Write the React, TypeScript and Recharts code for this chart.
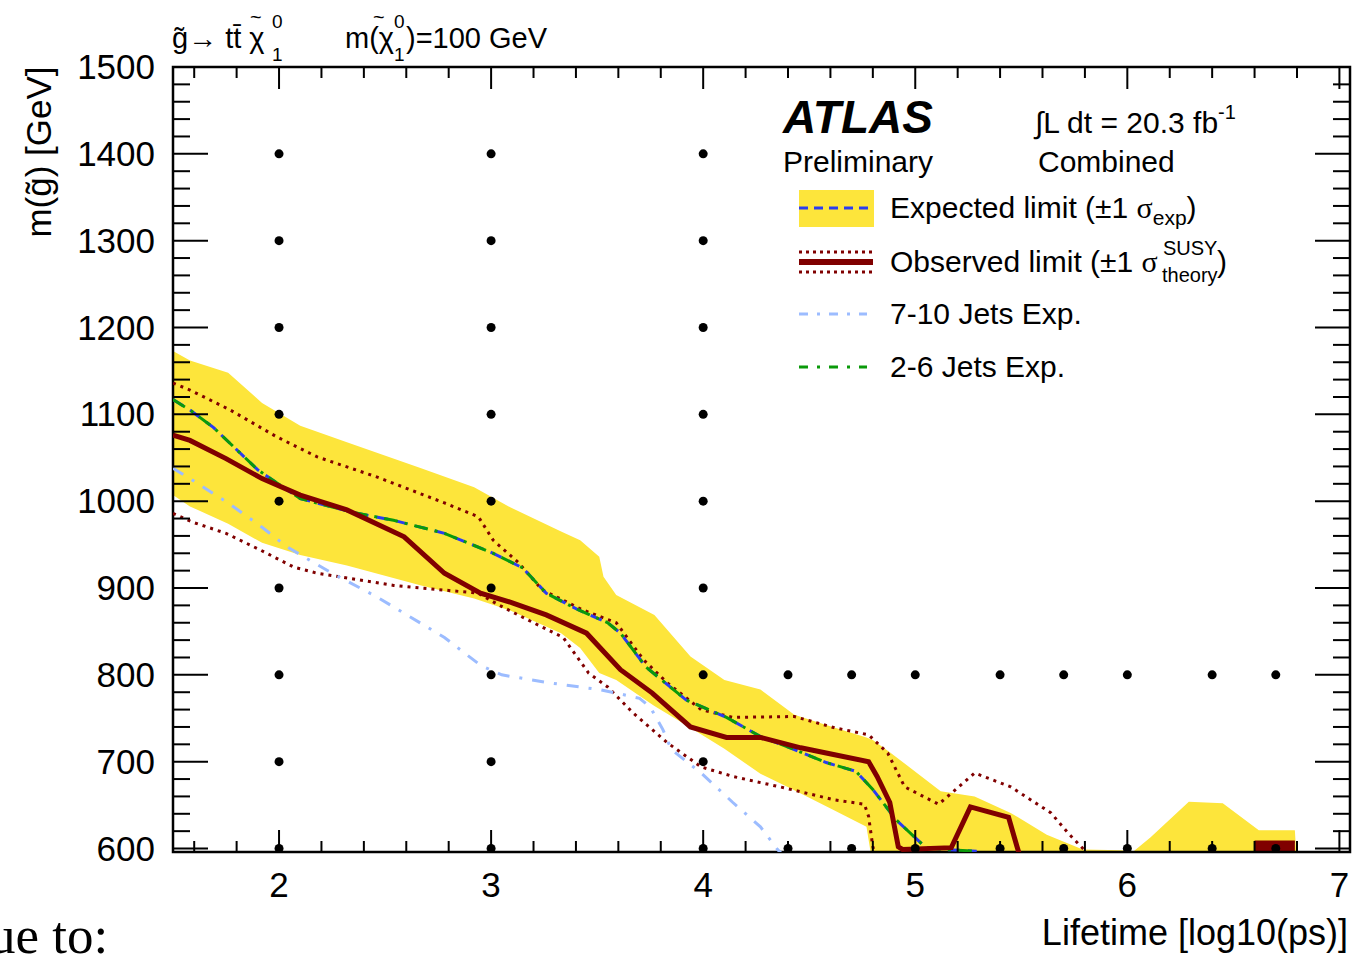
import React from 'react'
import { ComposedChart, Area, Line, Scatter, XAxis, YAxis, ReferenceArea } from 'recharts'

// plot frame in page pixels
const W = 1372
const H = 956
const PLOT_LEFT = 173
const PLOT_RIGHT = 1350
const PLOT_TOP = 67
const PLOT_BOTTOM = 852

const YELLOW = '#fde53b'
const DARKRED = '#800000'
const BLUE = '#2a3cf0'
const GREEN = '#0a9a0a'
const LIGHTBLUE = '#9cbcff'
const SANS = "'Liberation Sans', Arial, Helvetica, sans-serif"
const SERIF = "'Liberation Serif', 'DejaVu Serif', serif"

// expected limit +-1 sigma band
const bandX = [1.5, 1.58, 1.76, 1.92, 2.1, 2.32, 2.67, 2.92, 3.09, 3.33, 3.42, 3.51, 3.53, 3.59, 3.77, 3.94, 4.1, 4.27, 4.43, 4.61, 4.77, 4.8, 4.88, 5.12, 5.28, 5.45, 5.62, 5.79, 5.97, 6.03, 6.11, 6.29, 6.45, 6.62, 6.79, 6.8]
const bandHigh = [1173, 1162, 1148, 1113, 1087, 1068, 1038, 1016, 993, 965, 955, 936, 913, 892, 869, 821, 794, 783, 754, 740, 728, 725, 711, 666, 660, 641, 616, 599, 598, 597, 613, 654, 652, 621, 621, 580]
const bandLow = [1007, 994, 974, 952, 938, 926, 903, 888, 874, 848, 831, 802, 800, 794, 764, 739, 715, 686, 667, 645, 625, 580, 580, 580, 580, 580, 580, 580, 580, 580, 580, 580, 580, 580, 580, 580]

// expected limit
const expX = [1.5, 1.58, 1.69, 1.9, 1.99, 2.1, 2.35, 2.54, 2.78, 3.01, 3.15, 3.26, 3.41, 3.55, 3.61, 3.73, 3.92, 4.11, 4.27, 4.43, 4.58, 4.72, 4.8, 4.91, 5.05, 5.13, 5.29]
const expY = [1117, 1105, 1085, 1036, 1021, 1003, 987, 978, 963, 940, 923, 894, 875, 860, 848, 809, 771, 751, 729, 714, 699, 689, 668, 633, 601, 599, 597]

// 2-6 jets expected
const j26X = [1.5, 1.58, 1.69, 1.9, 1.99, 2.1, 2.35, 2.54, 2.78, 3.01, 3.15, 3.26, 3.41, 3.55, 3.61, 3.73, 3.92, 4.11, 4.27, 4.43, 4.58, 4.72, 4.8, 4.91, 5.05, 5.13, 5.29]
const j26Y = [1117, 1105, 1085, 1036, 1021, 1003, 987, 978, 963, 940, 923, 894, 875, 860, 848, 809, 771, 751, 729, 714, 699, 689, 668, 633, 601, 599, 597]

// 7-10 jets expected
const j710X = [1.5, 1.58, 1.76, 1.92, 2.04, 2.25, 2.46, 2.78, 2.95, 3.05, 3.27, 3.51, 3.59, 3.7, 3.75, 3.81, 3.85, 3.99, 4.14, 4.27, 4.35, 4.37]
const j710Y = [1038, 1026, 998, 970, 947, 917, 890, 843, 811, 800, 791, 783, 779, 773, 763, 737, 714, 687, 653, 625, 599, 594]

// observed limit and theory +-1 sigma
const obsX = [1.5, 1.58, 1.75, 1.92, 2.1, 2.32, 2.59, 2.78, 2.95, 3.1, 3.26, 3.45, 3.61, 3.76, 3.94, 4.11, 4.27, 4.46, 4.62, 4.78, 4.82, 4.88, 4.92, 4.94, 5.17, 5.26, 5.44, 5.48, 5.49]
const obsY = [1076, 1070, 1049, 1026, 1007, 990, 959, 917, 894, 883, 869, 848, 806, 779, 740, 728, 728, 716, 708, 700, 683, 653, 602, 599, 601, 648, 636, 602, 594]
const obsUpX = [1.5, 1.58, 1.77, 1.99, 2.18, 2.46, 2.78, 2.94, 3.01, 3.13, 3.24, 3.43, 3.59, 3.72, 3.83, 3.99, 4.14, 4.43, 4.62, 4.78, 4.87, 4.95, 5.11, 5.28, 5.45, 5.64, 5.72, 5.81]
const obsUpY = [1136, 1128, 1105, 1074, 1051, 1028, 998, 982, 955, 929, 898, 875, 860, 817, 791, 760, 751, 752, 739, 731, 710, 671, 651, 687, 671, 641, 618, 595]
const obsDnX = [1.5, 1.59, 1.75, 1.91, 2.07, 2.18, 2.54, 2.94, 3.04, 3.2, 3.34, 3.46, 3.55, 3.67, 3.83, 3.99, 4.14, 4.38, 4.62, 4.76, 4.78, 4.8, 4.81]
const obsDnY = [986, 976, 963, 944, 924, 917, 903, 894, 880, 860, 843, 802, 786, 756, 722, 694, 683, 670, 656, 651, 637, 602, 594]

// small observed island at long lifetime
const islandX = [6.6, 6.79]
const islandLow = [596, 596]
const islandHigh = [608, 608]

// signal grid points
const gridX1 = [2, 3, 4]
const gridM1 = [600, 700, 800, 900, 1000, 1100, 1200, 1300, 1400]
const gridX2 = [4.4, 4.7, 5, 5.4, 5.7, 6, 6.4, 6.7]
const gridM2 = [600, 800]

const xTicks = Array.from({ length: 28 }, (_, i) => Math.round((1.6 + 0.2 * i) * 10) / 10)
const yTicks = Array.from({ length: 46 }, (_, i) => 600 + 20 * i)

const rows: any[] = []
bandX.forEach((x, i) => rows.push({ x, band: [bandLow[i], bandHigh[i]] }))
islandX.forEach((x, i) => rows.push({ x, island: [islandLow[i], islandHigh[i]] }))
expX.forEach((x, i) => rows.push({ x, exp: expY[i] }))
j26X.forEach((x, i) => rows.push({ x, j26: j26Y[i] }))
j710X.forEach((x, i) => rows.push({ x, j710: j710Y[i] }))
obsX.forEach((x, i) => rows.push({ x, obs: obsY[i] }))
obsUpX.forEach((x, i) => rows.push({ x, obsUp: obsUpY[i] }))
obsDnX.forEach((x, i) => rows.push({ x, obsDn: obsDnY[i] }))
const data = rows.sort((a, b) => a.x - b.x)

const gridPoints: { x: number; y: number }[] = []
gridX1.forEach(x => gridM1.forEach(y => gridPoints.push({ x, y })))
gridX2.forEach(x => gridM2.forEach(y => gridPoints.push({ x, y })))

function XTick(props: any) {
  const { x, payload } = props
  const v = payload.value
  const major = Math.abs(v - Math.round(v)) < 1e-6
  const len = major ? 22 : 11
  return (
    <g>
      <line x1={x} x2={x} y1={PLOT_BOTTOM} y2={PLOT_BOTTOM - len} stroke="#000" strokeWidth={2} />
      <line x1={x} x2={x} y1={PLOT_TOP} y2={PLOT_TOP + len} stroke="#000" strokeWidth={2} />
      {major && (
        <text x={x} y={897} textAnchor="middle" fontSize={35} fontFamily={SANS} fill="#000">
          {Math.round(v)}
        </text>
      )}
    </g>
  )
}

function YTick(props: any) {
  const { y, payload } = props
  const v = payload.value
  const major = v % 100 === 0
  const len = major ? 35 : 17
  return (
    <g>
      <line x1={PLOT_LEFT} x2={PLOT_LEFT + len} y1={y} y2={y} stroke="#000" strokeWidth={2} />
      <line x1={PLOT_RIGHT - len} x2={PLOT_RIGHT} y1={y} y2={y} stroke="#000" strokeWidth={2} />
      {major && (
        <text x={155} y={y + 12} textAnchor="end" fontSize={35} fontFamily={SANS} fill="#000">
          {v}
        </text>
      )}
    </g>
  )
}

function Overlay() {
  return (
    <svg width={W} height={H} style={{ position: 'absolute', left: 0, top: 0, pointerEvents: 'none' }} fontFamily={SANS}>
      {/* process label */}
      <text x={172} y={48} fontSize={29}>g̃→ tt̄ χ</text>
      <text x={250} y={24} fontSize={20}>~</text>
      <text x={272} y={28} fontSize={19}>0</text>
      <text x={272} y={61} fontSize={19}>1</text>
      <text x={345} y={48} fontSize={29}>m(χ</text>
      <text x={373} y={24} fontSize={20}>~</text>
      <text x={394} y={28} fontSize={19}>0</text>
      <text x={394} y={61} fontSize={19}>1</text>
      <text x={406} y={48} fontSize={29}>)=100 GeV</text>

      {/* axis titles */}
      <text transform="translate(51,152) rotate(-90)" textAnchor="middle" fontSize={35}>m(g̃) [GeV]</text>
      <text x={1348} y={945} textAnchor="end" fontSize={36}>Lifetime [log10(ps)]</text>

      {/* ATLAS label */}
      <text x={783} y={133} fontSize={46} fontWeight="bold" fontStyle="italic">ATLAS</text>
      <text x={783} y={172} fontSize={30}>Preliminary</text>
      <text x={1035} y={133} fontSize={30}>∫L dt = 20.3 fb<tspan fontSize={20} dy={-14}>-1</tspan></text>
      <text x={1038} y={172} fontSize={30}>Combined</text>

      {/* legend */}
      <rect x={799} y={190} width={75} height={37} fill={YELLOW} />
      <line x1={799} x2={873} y1={208} y2={208} stroke={BLUE} strokeWidth={3} strokeDasharray="9 6" />
      <text x={890} y={218} fontSize={30}>
        Expected limit (±1 <tspan fontFamily={SERIF}>σ</tspan>
        <tspan fontSize={21} dy={7}>exp</tspan>
        <tspan dy={-7}>)</tspan>
      </text>

      <line x1={799} x2={873} y1={252} y2={252} stroke={DARKRED} strokeWidth={3} strokeDasharray="3 4" />
      <line x1={799} x2={873} y1={262} y2={262} stroke={DARKRED} strokeWidth={6} />
      <line x1={799} x2={873} y1={272} y2={272} stroke={DARKRED} strokeWidth={3} strokeDasharray="3 4" />
      <text x={890} y={272} fontSize={30}>
        Observed limit (±1 <tspan fontFamily={SERIF}>σ</tspan>
      </text>
      <text x={1163} y={255} fontSize={20}>SUSY</text>
      <text x={1162} y={282} fontSize={20}>theory</text>
      <text x={1217} y={272} fontSize={30}>)</text>

      <line x1={799} x2={867} y1={314} y2={314} stroke={LIGHTBLUE} strokeWidth={3} strokeDasharray="9 9 3 9" />
      <text x={890} y={324} fontSize={30}>7-10 Jets Exp.</text>

      <line x1={799} x2={867} y1={367} y2={367} stroke={GREEN} strokeWidth={3} strokeDasharray="9 9 3 9" />
      <text x={890} y={377} fontSize={30}>2-6 Jets Exp.</text>

      {/* text of the surrounding page */}
      <text x={-11} y={953} fontSize={53} fontFamily={SERIF}>ue to:</text>
    </svg>
  )
}

export default function App() {
  return (
    <div style={{ position: 'absolute', left: 0, top: 0, width: W, height: H, overflow: 'hidden', background: '#fff' }}>
      <ComposedChart
        width={W}
        height={H}
        data={data}
        margin={{ top: PLOT_TOP, right: W - PLOT_RIGHT, bottom: 0, left: 0 }}
      >
        <Area dataKey="band" type="linear" fill={YELLOW} fillOpacity={1} stroke="none" connectNulls dot={false} activeDot={false} isAnimationActive={false} />
        <Line dataKey="obsUp" type="linear" stroke={DARKRED} strokeWidth={3} strokeDasharray="3 5" dot={false} activeDot={false} connectNulls isAnimationActive={false} />
        <Line dataKey="obsDn" type="linear" stroke={DARKRED} strokeWidth={3} strokeDasharray="3 5" dot={false} activeDot={false} connectNulls isAnimationActive={false} />
        <Line dataKey="j710" type="linear" stroke={LIGHTBLUE} strokeWidth={3} strokeDasharray="12 10 3 10" dot={false} activeDot={false} connectNulls isAnimationActive={false} />
        <Line dataKey="exp" type="linear" stroke={BLUE} strokeWidth={3} strokeDasharray="12 8" dot={false} activeDot={false} connectNulls isAnimationActive={false} />
        <Line dataKey="j26" type="linear" stroke={GREEN} strokeWidth={3} strokeDasharray="14 7 3 7" dot={false} activeDot={false} connectNulls isAnimationActive={false} />
        <Line dataKey="obs" type="linear" stroke={DARKRED} strokeWidth={5} dot={false} activeDot={false} connectNulls isAnimationActive={false} />
        <Area dataKey="island" type="linear" fill={DARKRED} fillOpacity={1} stroke={DARKRED} strokeWidth={2} connectNulls dot={false} activeDot={false} isAnimationActive={false} />
        <Scatter
          data={gridPoints}
          dataKey="y"
          isAnimationActive={false}
          shape={(p: any) => <circle cx={p.cx} cy={p.cy} r={4.5} fill="#000" />}
        />
        <XAxis
          dataKey="x"
          type="number"
          domain={[1.5, 7.05]}
          ticks={xTicks}
          interval={0}
          height={H - PLOT_BOTTOM}
          axisLine={false}
          tickLine={false}
          tick={(p: any) => <XTick {...p} />}
          allowDataOverflow
        />
        <YAxis
          type="number"
          domain={[596, 1500]}
          ticks={yTicks}
          interval={0}
          width={PLOT_LEFT}
          axisLine={false}
          tickLine={false}
          tick={(p: any) => <YTick {...p} />}
          allowDataOverflow
        />
        <ReferenceArea x1={1.5} x2={7.05} y1={596} y2={1500} fill="none" stroke="#000" strokeWidth={2.5} />
      </ComposedChart>
      <Overlay />
    </div>
  )
}
